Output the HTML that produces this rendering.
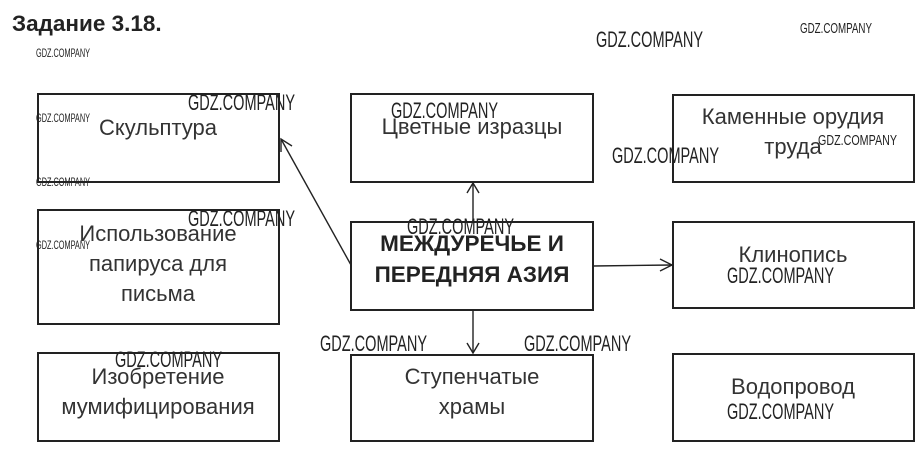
<!DOCTYPE html>
<html><head><meta charset="utf-8"><style>
html,body{margin:0;padding:0;background:#fff;}
svg{display:block;}
.t{font-family:"Liberation Sans",sans-serif;font-size:22px;fill:#333;text-anchor:middle;}
.b{font-family:"Liberation Sans",sans-serif;font-size:22.5px;font-weight:bold;fill:#222;text-anchor:middle;}
.w{font-family:"Liberation Sans",sans-serif;fill:#222;}
rect{fill:none;stroke:#222;stroke-width:2;}
line,path.a{stroke:#222;stroke-width:1.4;fill:none;}
</style></head><body>
<svg width="924" height="450" viewBox="0 0 924 450">
<text x="12" y="31" style="font-family:'Liberation Sans',sans-serif;font-size:22.5px;font-weight:bold;fill:#222">Задание 3.18.</text>

<rect x="38" y="94" width="241" height="88"/>
<rect x="38" y="210" width="241" height="114"/>
<rect x="38" y="353" width="241" height="88"/>
<rect x="351" y="94" width="242" height="88"/>
<rect x="351" y="222" width="242" height="88"/>
<rect x="351" y="355" width="242" height="86"/>
<rect x="673" y="95" width="241" height="87"/>
<rect x="673" y="222" width="241" height="86"/>
<rect x="673" y="354" width="241" height="87"/>

<text class="t" x="158" y="135">Скульптура</text>
<text class="t" x="158" y="241">Использование</text>
<text class="t" x="158" y="271">папируса для</text>
<text class="t" x="158" y="301">письма</text>
<text class="t" x="158" y="384">Изобретение</text>
<text class="t" x="158" y="414">мумифицирования</text>
<text class="t" x="472" y="134">Цветные изразцы</text>
<text class="b" x="472" y="251">МЕЖДУРЕЧЬЕ И</text>
<text class="b" x="472" y="282">ПЕРЕДНЯЯ АЗИЯ</text>
<text class="t" x="472" y="384">Ступенчатые</text>
<text class="t" x="472" y="414">храмы</text>
<text class="t" x="793" y="124">Каменные орудия</text>
<text class="t" x="793" y="154">труда</text>
<text class="t" x="793" y="262">Клинопись</text>
<text class="t" x="793" y="394">Водопровод</text>

<line x1="473" y1="222" x2="473" y2="183"/>
<path class="a" d="M467 193 L473 183 L479 193"/>
<line x1="351" y1="265" x2="281" y2="139"/>
<path class="a" d="M281 152 L281 139 L292 146"/>
<line x1="593" y1="266" x2="672" y2="265"/>
<path class="a" d="M660 259 L672 265 L660 271"/>
<line x1="473" y1="310" x2="473" y2="353"/>
<path class="a" d="M467 343 L473 353 L479 343"/>

<g class="w">
<text x="36" y="57" font-size="12" textLength="54" lengthAdjust="spacingAndGlyphs">GDZ.COMPANY</text>
<text x="596" y="47" font-size="22" textLength="107" lengthAdjust="spacingAndGlyphs">GDZ.COMPANY</text>
<text x="800" y="33" font-size="15" textLength="72" lengthAdjust="spacingAndGlyphs">GDZ.COMPANY</text>
<text x="188" y="110" font-size="22" textLength="107" lengthAdjust="spacingAndGlyphs">GDZ.COMPANY</text>
<text x="36" y="122" font-size="12" textLength="54" lengthAdjust="spacingAndGlyphs">GDZ.COMPANY</text>
<text x="391" y="118" font-size="22" textLength="107" lengthAdjust="spacingAndGlyphs">GDZ.COMPANY</text>
<text x="612" y="163" font-size="22" textLength="107" lengthAdjust="spacingAndGlyphs">GDZ.COMPANY</text>
<text x="818" y="145" font-size="15" textLength="79" lengthAdjust="spacingAndGlyphs">GDZ.COMPANY</text>
<text x="36" y="186" font-size="12" textLength="54" lengthAdjust="spacingAndGlyphs">GDZ.COMPANY</text>
<text x="188" y="226" font-size="22" textLength="107" lengthAdjust="spacingAndGlyphs">GDZ.COMPANY</text>
<text x="36" y="249" font-size="12" textLength="54" lengthAdjust="spacingAndGlyphs">GDZ.COMPANY</text>
<text x="407" y="234" font-size="22" textLength="107" lengthAdjust="spacingAndGlyphs">GDZ.COMPANY</text>
<text x="727" y="283" font-size="22" textLength="107" lengthAdjust="spacingAndGlyphs">GDZ.COMPANY</text>
<text x="320" y="351" font-size="22" textLength="107" lengthAdjust="spacingAndGlyphs">GDZ.COMPANY</text>
<text x="524" y="351" font-size="22" textLength="107" lengthAdjust="spacingAndGlyphs">GDZ.COMPANY</text>
<text x="115" y="367" font-size="22" textLength="107" lengthAdjust="spacingAndGlyphs">GDZ.COMPANY</text>
<text x="727" y="419" font-size="22" textLength="107" lengthAdjust="spacingAndGlyphs">GDZ.COMPANY</text>
</g>
</svg>
</body></html>
